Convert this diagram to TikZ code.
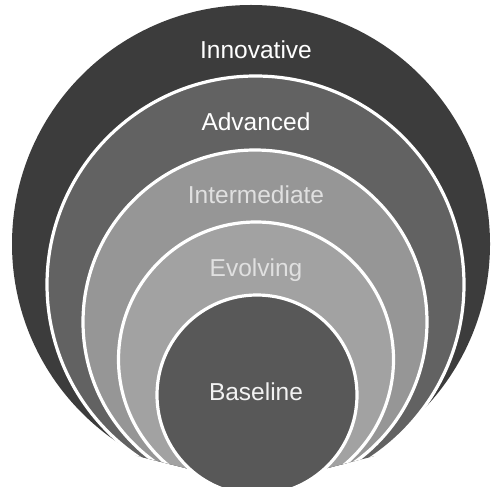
\documentclass[tikz,border=0pt]{standalone}
\usepackage{fontspec}
\setmainfont{Liberation Sans}
\definecolor{cInno}{HTML}{3C3C3C}
\definecolor{cAdv}{HTML}{626262}
\definecolor{cInt}{HTML}{969696}
\definecolor{cEvo}{HTML}{A2A2A2}
\definecolor{cBase}{HTML}{585858}
\begin{document}
\begin{tikzpicture}[x=1pt,y=-1pt,
  disc/.style={circle, inner sep=0pt, outer sep=0pt},
  ringline/.style={draw=white, line width=3.2pt},
  lbl/.style={font=\fontsize{24.5}{26}\selectfont, text=white, inner sep=0pt}]
\useasboundingbox (0,0) rectangle (494,486);
\fill[white] (0,0) rectangle (494,486);
\begin{scope}
  \clip (-10,-10) -- (504,-10) -- (504,423) -- (257,486) -- (-10,419) -- cycle;
  \node[disc, fill=cInno, minimum size=478pt] (innovative) at (251,244) {};
  \node[disc, ringline, fill=cAdv, minimum size=417pt] (advanced) at (255.5,284.5) {};
  \node[disc, ringline, fill=cInt, minimum size=344pt] (intermediate) at (255,322) {};
  \node[disc, ringline, fill=cEvo, minimum size=275pt] (evolving) at (256,359.5) {};
\end{scope}
\node[disc, ringline, fill=cBase, minimum size=200pt] (baseline) at (257,395) {};
\node[lbl] (tInno) at (256,50) {Innovative};
\node[lbl] (tAdv) at (256,122) {Advanced};
\node[lbl, text=white!88!black] (tInt) at (256,195) {Intermediate};
\node[lbl, text=white!88!black] (tEvo) at (256,270) {Evolving};
\node[lbl, text=white!95!black] (tBase) at (256,392) {Baseline};
\end{tikzpicture}
\end{document}
